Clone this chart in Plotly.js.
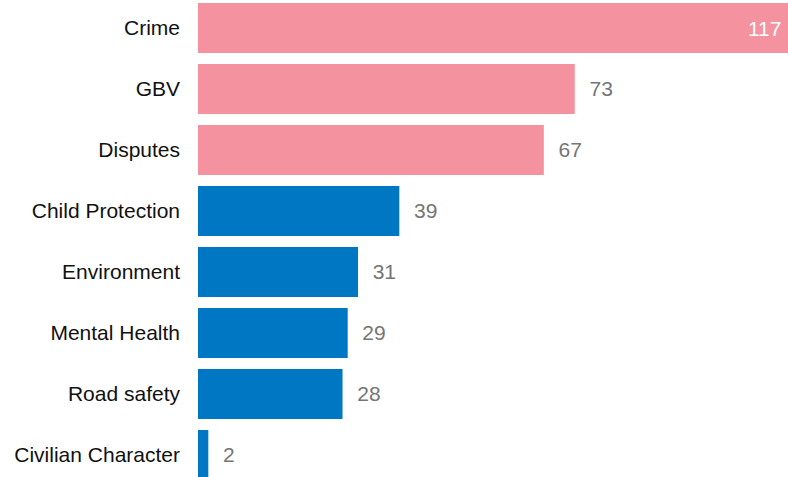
<!DOCTYPE html>
<html>
<head>
<meta charset="utf-8">
<script src="https://cdn.plot.ly/plotly-3.0.1.min.js"></script>
<style>html,body{margin:0;padding:0;background:#fff;}#chart{width:788px;height:477px;}</style>
</head>
<body>
<div id="chart"></div>
<script>
var categories = ["Crime", "GBV", "Disputes", "Child Protection", "Environment", "Mental Health", "Road safety", "Civilian Character"];
var counts = [117, 73, 67, 39, 31, 29, 28, 2];

var PINK = "#F4939F", BLUE = "#0077C2";
var barColors = categories.map(function(c, i){ return i < 3 ? PINK : BLUE; });
var xMax = 114.3;
// bars longer than the visible range get their label inside, the rest outside
var labelPositions = counts.map(function(v){ return v > xMax ? "inside" : "outside"; });
var NB = "\u00A0";
var labels = counts.map(function(v){
  return v > xMax ? v + NB + NB + NB : NB + NB + v;
});

var FONT = "Liberation Sans, Arial, sans-serif";

var trace = {
  type: "bar",
  orientation: "h",
  y: categories,
  x: counts,
  marker: {color: barColors},
  text: labels,
  textposition: labelPositions,
  insidetextanchor: "end",
  insidetextfont: {color: "#ffffff", size: 21, family: FONT},
  outsidetextfont: {color: "#757575", size: 21, family: FONT},
  cliponaxis: true,
  hoverinfo: "none"
};

var layout = {
  width: 788,
  height: 477,
  margin: {l: 198, r: 0, t: 0, b: 0, pad: 0},
  paper_bgcolor: "#ffffff",
  plot_bgcolor: "#ffffff",
  bargap: 0.18,
  showlegend: false,
  font: {family: FONT, size: 21, color: "#111111"},
  xaxis: {range: [0, xMax], visible: false, showgrid: false, zeroline: false, fixedrange: true},
  yaxis: {
    type: "category",
    categoryorder: "array",
    categoryarray: categories,
    range: [7.361, -0.459],
    showgrid: false,
    zeroline: false,
    showline: false,
    ticks: "",
    ticklabelstandoff: 17,
    tickfont: {size: 21, color: "#111111", family: FONT},
    fixedrange: true
  }
};

Plotly.newPlot("chart", [trace], layout, {displayModeBar: false, staticPlot: true});
</script>
</body>
</html>
